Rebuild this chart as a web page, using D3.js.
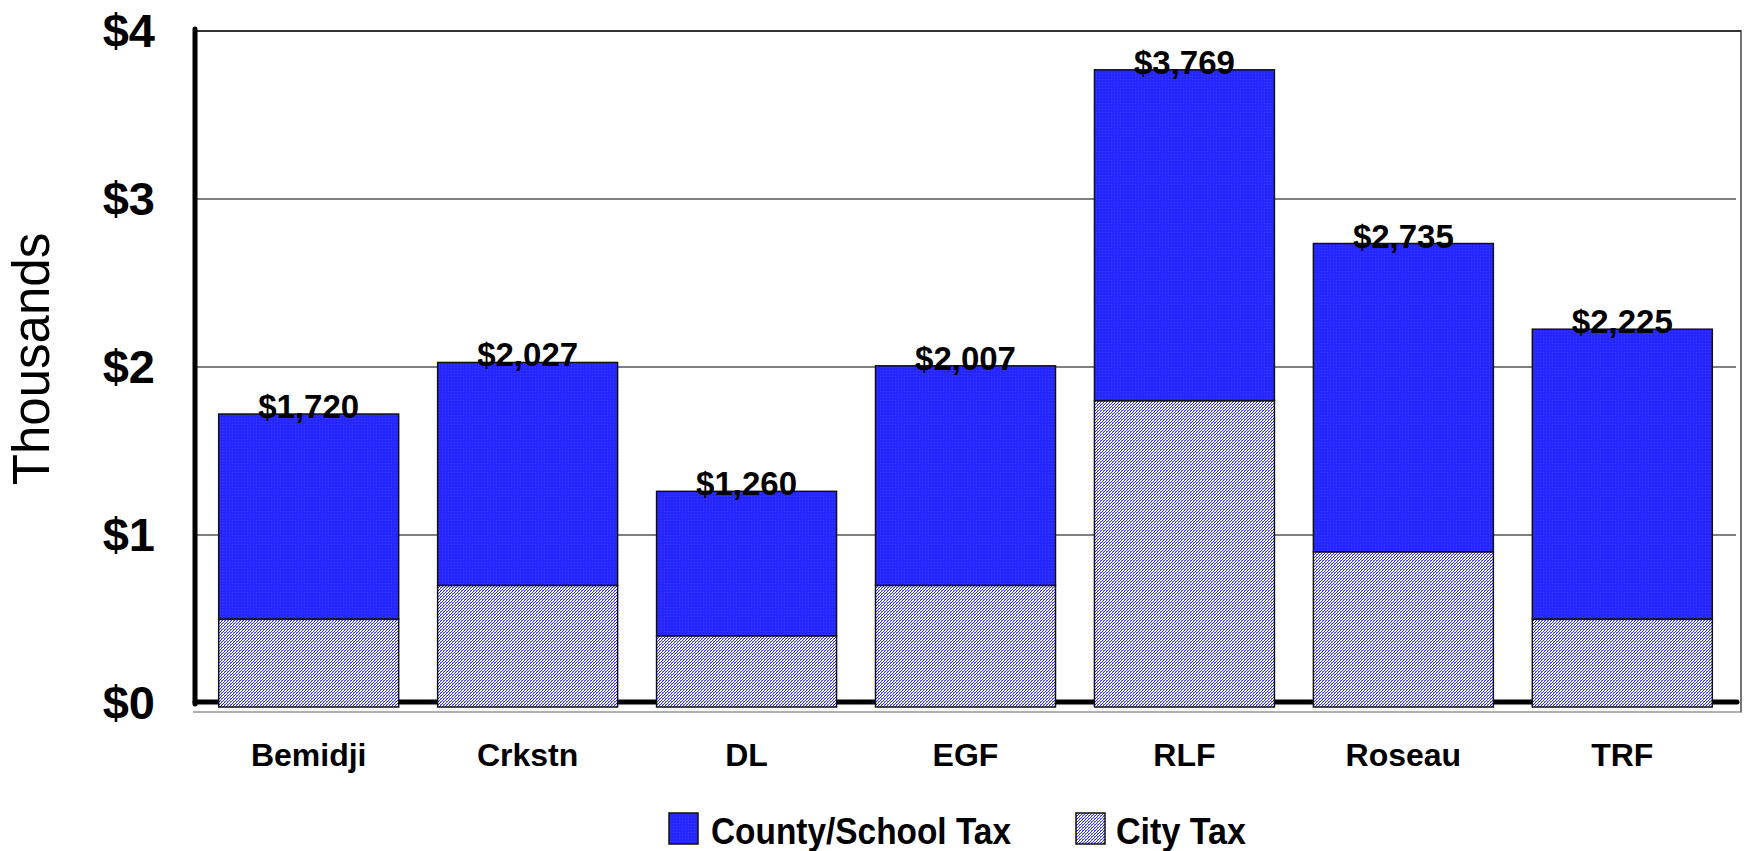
<!DOCTYPE html>
<html>
<head>
<meta charset="utf-8">
<script src="https://cdn.jsdelivr.net/npm/d3@7"></script>
<style>
  html, body { margin: 0; padding: 0; background: #fff; }
  svg { display: block; font-family: "Liberation Sans", Arial, sans-serif; }
</style>
</head>
<body>
<svg id="chart" width="1748" height="851"></svg>
<script>
// Property tax per city, in thousands of dollars
const cities = ["Bemidji", "Crkstn", "DL", "EGF", "RLF", "Roseau", "TRF"];
const totalTax = [1.720, 2.027, 1.260, 2.007, 3.769, 2.735, 2.225];
const cityTax = [0.50, 0.70, 0.40, 0.70, 1.80, 0.90, 0.50];
const countySchoolTax = totalTax.map((t, i) => t - cityTax[i]);
const yTicks = [0, 1, 2, 3, 4];
const seriesNames = ["County/School Tax", "City Tax"];

const svg = d3.select("#chart");
const plot = { left: 195, right: 1741, top: 31, bottom: 703 };

const x = d3.scaleBand()
  .domain(cities)
  .range([199, 1732])
  .paddingInner(0.178)
  .paddingOuter(0.09);

const y = d3.scaleLinear().domain([0, 4]).range([plot.bottom, plot.top]);

// Fill patterns: dotted solid blue and fine diagonal hatch
const defs = svg.append("defs");
const solid = defs.append("pattern")
  .attr("id", "countyFill").attr("patternUnits", "userSpaceOnUse")
  .attr("width", 3).attr("height", 3);
solid.append("rect").attr("width", 3).attr("height", 3).attr("fill", "#2626ff");
solid.append("rect").attr("x", 1).attr("y", 1).attr("width", 1).attr("height", 1).attr("fill", "#3a3aff");

const hatch = defs.append("pattern")
  .attr("id", "cityFill").attr("patternUnits", "userSpaceOnUse")
  .attr("width", 3).attr("height", 3)
  .attr("shape-rendering", "crispEdges");
hatch.append("rect").attr("width", 3).attr("height", 3).attr("fill", "#ffffff");
hatch.selectAll("rect.px")
  .data([[2, 0], [1, 1], [0, 2]])
  .join("rect")
  .attr("class", "px")
  .attr("x", d => d[0]).attr("y", d => d[1])
  .attr("width", 1).attr("height", 1)
  .attr("fill", "#2a2aff");
hatch.append("rect").attr("x", 2).attr("y", 2).attr("width", 1).attr("height", 1).attr("fill", "#8c8cff");

// Plot frame shadow lines
svg.append("line")
  .attr("x1", plot.left - 2).attr("x2", plot.right + 1)
  .attr("y1", plot.bottom + 9).attr("y2", plot.bottom + 9)
  .attr("stroke", "#b0b0b0").attr("stroke-width", 2);
svg.append("line")
  .attr("x1", plot.right).attr("x2", plot.right)
  .attr("y1", plot.top - 1).attr("y2", plot.bottom + 9)
  .attr("stroke", "#777").attr("stroke-width", 2);

// Gridlines
svg.append("g")
  .selectAll("line")
  .data(yTicks.filter(d => d > 0))
  .join("line")
  .attr("x1", plot.left).attr("x2", d => d === 4 ? plot.right : plot.right - 5)
  .attr("y1", d => y(d)).attr("y2", d => y(d))
  .attr("stroke", d => d === 4 ? "#333" : "#555")
  .attr("stroke-width", d => d === 4 ? 2 : 1.5);

// Thick baseline
svg.append("line")
  .attr("x1", plot.left).attr("x2", plot.right - 4)
  .attr("y1", y(0) - 1).attr("y2", y(0) - 1)
  .attr("stroke", "#000").attr("stroke-width", 5)
  .attr("stroke-linecap", "round");

// Stacked bars
const barBase = 4;
const bars = svg.append("g");
bars.selectAll("rect.city")
  .data(cities)
  .join("rect")
  .attr("class", "city")
  .attr("x", d => x(d))
  .attr("width", x.bandwidth())
  .attr("y", (d, i) => y(cityTax[i]))
  .attr("height", (d, i) => y(0) - y(cityTax[i]) + barBase)
  .attr("fill", "url(#cityFill)")
  .attr("stroke", "#111").attr("stroke-width", 1.5);

bars.selectAll("rect.county")
  .data(cities)
  .join("rect")
  .attr("class", "county")
  .attr("x", d => x(d))
  .attr("width", x.bandwidth())
  .attr("y", (d, i) => y(totalTax[i]))
  .attr("height", (d, i) => y(cityTax[i]) - y(totalTax[i]))
  .attr("fill", "url(#countyFill)")
  .attr("stroke", "#111").attr("stroke-width", 1.5);

// Total labels
svg.append("g")
  .selectAll("text")
  .data(cities)
  .join("text")
  .attr("x", d => x(d) + x.bandwidth() / 2)
  .attr("y", (d, i) => y(totalTax[i]) + 4)
  .attr("text-anchor", "middle")
  .attr("font-size", 33).attr("font-weight", "bold")
  .text((d, i) => "$" + d3.format(",")(Math.round(totalTax[i] * 1000)));

// Left axis line
svg.append("line")
  .attr("x1", plot.left).attr("x2", plot.left)
  .attr("y1", plot.top - 2).attr("y2", y(0) + 1)
  .attr("stroke", "#000").attr("stroke-width", 5)
  .attr("stroke-linecap", "round");

// Y tick labels
svg.append("g")
  .selectAll("text")
  .data(yTicks)
  .join("text")
  .attr("x", 155)
  .attr("y", d => y(d))
  .attr("dy", "0.33em")
  .attr("text-anchor", "end")
  .attr("font-size", 47).attr("font-weight", "bold")
  .text(d => "$" + d);

// Category labels
svg.append("g")
  .selectAll("text")
  .data(cities)
  .join("text")
  .attr("x", d => x(d) + x.bandwidth() / 2)
  .attr("y", 766)
  .attr("text-anchor", "middle")
  .attr("font-size", 32).attr("font-weight", "bold")
  .text(d => d);

// Y axis title
svg.append("text")
  .attr("transform", "translate(49,359) rotate(-90)")
  .attr("text-anchor", "middle")
  .attr("font-size", 51)
  .text("Thousands");

// Legend
const legendItems = [
  { name: seriesNames[0], fill: "url(#countyFill)", x: 669, tx: 711, len: 300 },
  { name: seriesNames[1], fill: "url(#cityFill)", x: 1076, tx: 1116, len: 130 }
];
const lg = svg.append("g");
lg.selectAll("rect")
  .data(legendItems)
  .join("rect")
  .attr("x", d => d.x).attr("y", 813)
  .attr("width", 29).attr("height", 31)
  .attr("fill", d => d.fill)
  .attr("stroke", "#111").attr("stroke-width", 1.5);
lg.selectAll("text")
  .data(legendItems)
  .join("text")
  .attr("x", d => d.tx).attr("y", 844)
  .attr("font-size", 37).attr("font-weight", "bold")
  .attr("textLength", d => d.len)
  .attr("lengthAdjust", "spacingAndGlyphs")
  .text(d => d.name);
</script>
</body>
</html>
